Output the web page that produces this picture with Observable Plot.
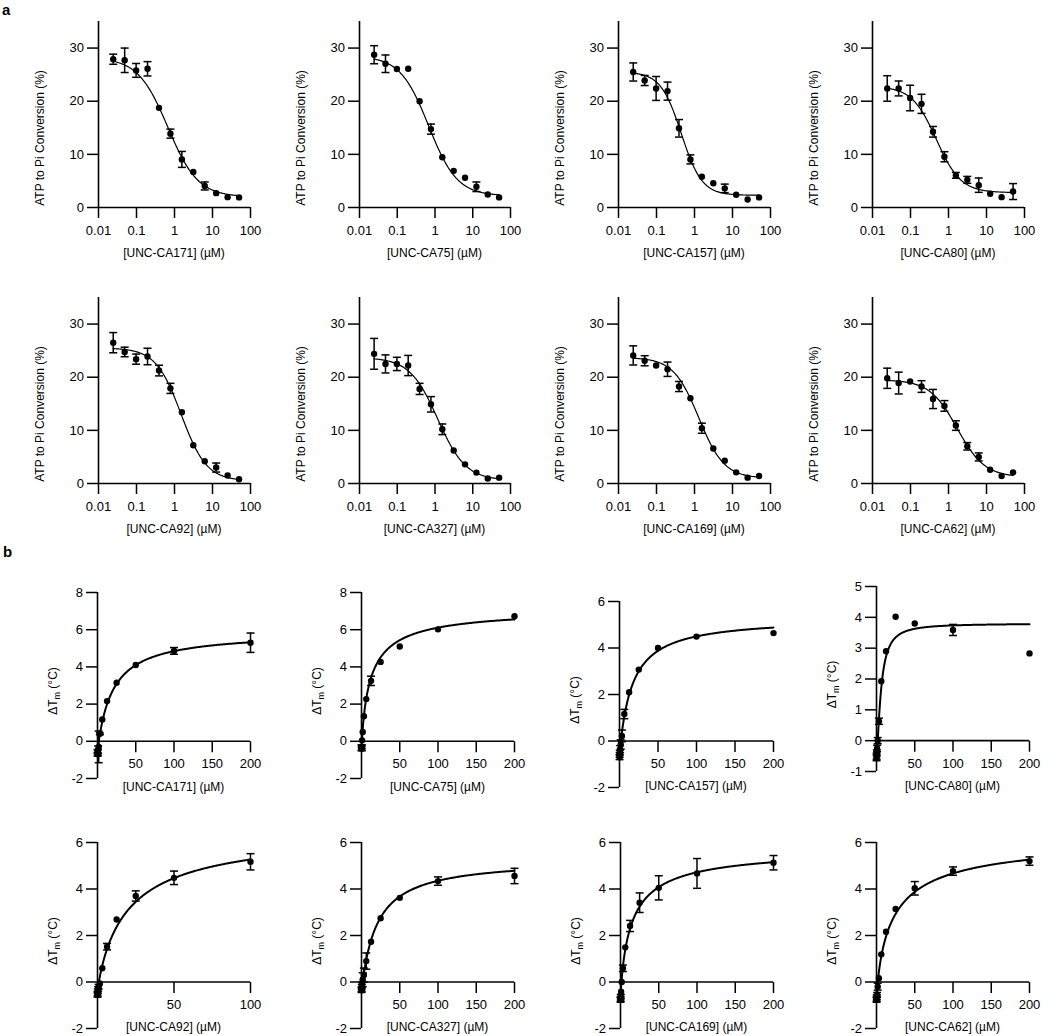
<!DOCTYPE html>
<html><head><meta charset="utf-8">
<script src="https://cdn.jsdelivr.net/npm/d3@7"></script>
<script src="https://cdn.jsdelivr.net/npm/@observablehq/plot@0.6"></script>
<style>
body{margin:0;background:#fff;}
#fig{position:relative;width:1050px;height:1036px;overflow:hidden;font-family:"Liberation Sans",Arial,Helvetica,sans-serif;background:#fff;}
#fig svg{position:absolute;overflow:visible;}
.plab{position:absolute;font-weight:bold;font-size:15px;line-height:18px;color:#000;}
</style></head><body><div id="fig"></div>
<script>
// ---------------- DATA ----------------
// Panel a: ATP to Pi conversion (%) vs concentration (µM), log axis
const concA = [0.0244, 0.0488, 0.0977, 0.195, 0.391, 0.781, 1.5625, 3.125, 6.25, 12.5, 25, 50];
const compoundsA = ["UNC-CA171", "UNC-CA75", "UNC-CA157", "UNC-CA80", "UNC-CA92", "UNC-CA327", "UNC-CA169", "UNC-CA62"];
const xTicksA = [0.01, 0.1, 1, 10, 100];
const yTicksA = [0, 10, 20, 30];

const atpCA171 = [27.9, 27.7, 25.8, 26.1, 18.75, 13.9, 9.05, 6.7, 4.05, 2.7, 1.95, 1.9];
const errCA171 = [0.95, 2.3, 1.3, 1.35, 0, 0.85, 1.5, 0, 0.75, 0, 0, 0];
const atpCA75 = [28.75, 27.05, 26.05, 26.1, 20.0, 14.75, 9.45, 6.9, 5.6, 3.9, 2.45, 1.9];
const errCA75 = [1.7, 1.65, 0, 0, 0, 0.95, 0, 0, 0, 0.9, 0, 0];
const atpCA157 = [25.5, 23.9, 22.4, 21.9, 14.9, 9.05, 5.8, 4.55, 3.6, 2.4, 1.5, 1.9];
const errCA157 = [1.7, 0.95, 2.25, 1.7, 1.65, 0.85, 0, 0, 0.8, 0, 0, 0];
const atpCA80 = [22.4, 22.4, 20.6, 19.5, 14.25, 9.55, 6.05, 5.2, 4.2, 2.6, 1.95, 3.0];
const errCA80 = [2.4, 1.4, 2.4, 1.8, 1.0, 0.95, 0.55, 0.65, 1.35, 0, 0, 1.5];
const atpCA92 = [26.5, 24.75, 23.4, 23.9, 21.25, 17.9, 13.4, 7.2, 4.2, 3.0, 1.5, 0.8];
const errCA92 = [1.9, 0.9, 0.95, 1.55, 1.0, 0.95, 0, 0, 0, 0.85, 0, 0];
const atpCA327 = [24.4, 22.5, 22.5, 22.2, 17.8, 14.9, 10.2, 6.2, 3.6, 2.05, 0.95, 1.1];
const errCA327 = [2.9, 1.7, 1.25, 1.9, 1.05, 1.45, 1.0, 0, 0, 0, 0, 0];
const atpCA169 = [24.1, 23.1, 22.2, 21.5, 18.25, 16.05, 10.4, 6.6, 4.3, 2.1, 1.1, 1.4];
const errCA169 = [1.8, 0.95, 0, 1.35, 0.95, 0, 0.95, 0, 0, 0, 0, 0];
const atpCA62 = [19.8, 18.9, 19.2, 18.25, 15.9, 14.6, 10.9, 7.0, 5.0, 2.6, 1.4, 2.1];
const errCA62 = [1.9, 2.05, 0, 1.1, 1.8, 1.0, 0.9, 0.7, 0.75, 0, 0, 0];

// 4-parameter logistic fit parameters (same order as compoundsA)
const fitTopA = [28.2, 28.5, 25.5, 22.8, 25.5, 23.7, 23.7, 19.5];
const fitBottomA = [2.0, 2.2, 2.3, 2.8, 0.5, 0.6, 1.0, 1.2];
const fitIC50A = [0.67, 0.68, 0.45, 0.48, 1.5, 1.18, 1.3, 1.7];
const fitHillA = [1.1, 1.15, 1.6, 1.35, 1.3, 1.17, 1.3, 1.2];

// Panel b: ΔTm (°C) vs concentration (µM), linear axis
const concB = [0.098, 0.195, 0.39, 0.78, 1.5625, 3.125, 6.25, 12.5, 25, 50, 100, 200];
const concB100 = [0.049, 0.098, 0.195, 0.39, 0.78, 1.5625, 3.125, 6.25, 12.5, 25, 50, 100];
const compoundsB = ["UNC-CA171", "UNC-CA75", "UNC-CA157", "UNC-CA80", "UNC-CA92", "UNC-CA327", "UNC-CA169", "UNC-CA62"];
const xTicksB200 = [50, 100, 150, 200];
const xTicksB100 = [50, 100];
const yTicksB8 = [-2, 0, 2, 4, 6, 8];
const yTicksB6 = [-2, 0, 2, 4, 6];
const yTicksB5 = [-1, 0, 1, 2, 3, 4, 5];

const dtmCA171 = [-0.55, -0.7, -0.6, -0.45, -0.3, 0.4, 1.17, 2.16, 3.15, 4.1, 4.86, 5.3];
const dErrCA171 = [0.1, 0.1, 0.15, 0.2, 0.85, 0.05, 0, 0, 0, 0, 0.18, 0.52];
const dtmCA75 = [-0.35, -0.4, -0.3, 0.05, 0.5, 1.35, 2.27, 3.25, 4.27, 5.1, 6.02, 6.72];
const dErrCA75 = [0.15, 0.1, 0.1, 0, 0, 0, 0, 0.25, 0, 0, 0, 0];
const dtmCA157 = [-0.7, -0.6, -0.5, -0.35, -0.15, 0.22, 1.16, 2.1, 3.07, 4.0, 4.49, 4.64];
const dErrCA157 = [0.1, 0.1, 0.1, 0.15, 0.2, 0.25, 0.2, 0, 0, 0, 0, 0];
const dtmCA80 = [-0.55, -0.5, -0.4, -0.25, 0.0, 0.63, 1.93, 2.9, 4.02, 3.8, 3.59, 2.83];
const dErrCA80 = [0.1, 0.1, 0.1, 0.1, 0.1, 0.1, 0, 0, 0, 0, 0.18, 0];
const dtmCA92 = [-0.55, -0.5, -0.4, -0.3, -0.2, -0.06, 0.59, 1.52, 2.69, 3.7, 4.48, 5.17];
const dErrCA92 = [0.1, 0.1, 0.1, 0.1, 0.1, 0, 0, 0.14, 0, 0.22, 0.29, 0.35];
const dtmCA327 = [-0.35, -0.3, -0.2, -0.1, 0.1, 0.3, 0.9, 1.73, 2.74, 3.62, 4.34, 4.56];
const dErrCA327 = [0.1, 0.1, 0.1, 0.1, 0.3, 0.3, 0.35, 0, 0, 0, 0.18, 0.33];
const dtmCA169 = [-0.77, -0.72, -0.63, -0.42, 0.0, 0.59, 1.49, 2.41, 3.41, 4.05, 4.67, 5.13];
const dErrCA169 = [0.1, 0.1, 0.1, 0, 0, 0.14, 0, 0.24, 0.42, 0.52, 0.64, 0.31];
const dtmCA62 = [-0.77, -0.72, -0.65, -0.55, -0.2, 0.16, 1.19, 2.16, 3.14, 4.03, 4.77, 5.2];
const dErrCA62 = [0.1, 0.1, 0.1, 0.1, 0.15, 0, 0, 0, 0, 0.29, 0.18, 0.18];

// Binding (Hill) fit parameters (same order as compoundsB)
const fitBottomB = [-0.5, -0.5, -0.6, -0.5, -0.4, -0.4, -0.7, -0.8];
const fitSpanB = [6.39, 7.7, 5.92, 4.3, 7.0, 5.7, 6.5, 7.1];
const fitKB = [19.5, 12, 16.1, 6, 20, 19.9, 15, 22];
const fitHillB = [1, 0.85, 1, 1.5, 0.9, 1, 0.85, 0.8];

// ---------------- LAYOUT ----------------
const axisXA = [98, 359, 618, 871.7];
const rightA = [250.3, 510, 770, 1024];
const topA = [20.7, 296.7];
const bottomA = [206.7, 482.3];

const axisXB = [97.3, 360.7, 619.3, 876, 97, 360.7, 620, 876];
const rightB = [250.3, 513.3, 773.3, 1029, 250, 513.3, 773.3, 1029];
const topB = [591.7, 591.7, 600.7, 586, 842.3, 842.3, 842.3, 842.3];
const bottomB = [777.3, 777.3, 786.7, 771, 1028.3, 1028.3, 1028.3, 1028.3];

// ---------------- DRAWING ----------------
const FONT = '"Liberation Sans", Arial, Helvetica, sans-serif';
const fig = document.getElementById("fig");
const ML = 80, MR = 16, MT = 12, MB = 62;

const capSym = {draw(ctx, size) { const r = Math.sqrt(size / Math.PI); ctx.moveTo(-r, 0); ctx.lineTo(r, 0); }};
const tickDownSym = {draw(ctx, size) { const r = Math.sqrt(size / Math.PI); ctx.moveTo(0, 0); ctx.lineTo(0, r); }};

function makePanel(o) {
  const w = Math.round(o.right - o.axis), h = Math.round(o.bottom - o.top);
  const pts = o.x.map((x, i) => ({x, y: o.y[i], e: o.e[i]}));
  const errPts = pts.filter(d => d.e > 0);
  const marks = [
    Plot.line(o.curve, {x: "x", y: "y", stroke: "black", strokeWidth: o.curveW}),
    Plot.ruleY([0], {stroke: "black", strokeWidth: 1.6}),
    Plot.ruleX([o.xDomain[0]], {stroke: "black", strokeWidth: 1.6}),
    Plot.axisY({ticks: o.yTicks, tickSize: 11, tickPadding: 3.5, tickFormat: d => String(d), label: null, strokeWidth: 1.5, fontSize: 13})
  ];
  if (o.log) {
    marks.push(Plot.axisX({ticks: o.xTicks, tickSize: 11, tickPadding: 7, tickFormat: d => String(d), label: null, strokeWidth: 1.5, fontSize: 13}));
  } else {
    marks.push(
      Plot.dot(o.xTicks, {x: d => d, y: () => 0, symbol: tickDownSym, r: 11, stroke: "black", strokeWidth: 1.5, fill: "none"}),
      Plot.text(o.xTicks, {x: d => d, y: () => 0, dy: 23, text: d => String(d), fontSize: 13, fill: "black"})
    );
  }
  marks.push(
    Plot.ruleX(errPts, {x: "x", y1: d => d.y - d.e, y2: d => d.y + d.e, stroke: "black", strokeWidth: 1.5}),
    Plot.dot(errPts, {x: "x", y: d => d.y + d.e, symbol: capSym, r: 4, stroke: "black", strokeWidth: 1.5, fill: "none"}),
    Plot.dot(errPts, {x: "x", y: d => d.y - d.e, symbol: capSym, r: 4, stroke: "black", strokeWidth: 1.5, fill: "none"}),
    Plot.dot(pts, {x: "x", y: "y", r: 3.2, fill: "black"})
  );
  const plot = Plot.plot({
    width: ML + w + MR, height: MT + h + MB,
    marginLeft: ML, marginRight: MR, marginTop: MT, marginBottom: MB,
    x: {type: o.log ? "log" : "linear", domain: o.xDomain, axis: null},
    y: {domain: o.yDomain, axis: null},
    style: {background: "transparent", fontFamily: FONT, fontSize: "13px", color: "black", overflow: "visible"},
    marks
  });
  plot.style.left = (o.axis - ML) + "px";
  plot.style.top = (o.top - MT) + "px";
  const svg = d3.select(plot);
  const zeroY = plot.scale("y").apply(0);
  // x label
  svg.append("text").attr("x", ML + w / 2).attr("y", zeroY + 45.5).attr("dy", "0.35em")
    .attr("text-anchor", "middle").attr("font-size", 12).attr("fill", "black").text(`[${o.name}] (µM)`);
  // y label
  if (o.log) {
    svg.append("text").attr("transform", `translate(${ML - 58.5},${MT + h - 69}) rotate(-90)`)
      .attr("text-anchor", "middle").attr("dy", "0.35em").attr("font-size", 12).attr("fill", "black")
      .text("ATP to Pi Conversion (%)");
  } else {
    const t = svg.append("text").attr("transform", `translate(${ML - 44},${MT + h / 2 + 6}) rotate(-90)`)
      .attr("text-anchor", "middle").attr("font-size", 12).attr("fill", "black");
    t.append("tspan").attr("dy", "0.35em").text("ΔT");
    t.append("tspan").attr("font-size", 9).attr("dy", 3).text("m");
    t.append("tspan").attr("dy", -3).text(" (°C)");
  }
  fig.appendChild(plot);
}

const seriesA = [[atpCA171, errCA171], [atpCA75, errCA75], [atpCA157, errCA157], [atpCA80, errCA80],
                 [atpCA92, errCA92], [atpCA327, errCA327], [atpCA169, errCA169], [atpCA62, errCA62]];
seriesA.forEach(([vals, errs], i) => {
  const col = i % 4, row = Math.floor(i / 4);
  const lo = Math.log10(concA[0]), hi = Math.log10(concA[concA.length - 1]);
  const curve = d3.range(161).map(k => {
    const x = Math.pow(10, lo + (hi - lo) * k / 160);
    return {x, y: fitBottomA[i] + (fitTopA[i] - fitBottomA[i]) / (1 + Math.pow(x / fitIC50A[i], fitHillA[i]))};
  });
  makePanel({
    name: compoundsA[i], log: true, x: concA, y: vals, e: errs, curve, curveW: 1.2,
    xDomain: [0.01, 100], yDomain: [0, 35], xTicks: xTicksA, yTicks: yTicksA,
    axis: axisXA[col], right: rightA[col], top: topA[row], bottom: bottomA[row]
  });
});

const seriesB = [[dtmCA171, dErrCA171, concB], [dtmCA75, dErrCA75, concB], [dtmCA157, dErrCA157, concB], [dtmCA80, dErrCA80, concB],
                 [dtmCA92, dErrCA92, concB100], [dtmCA327, dErrCA327, concB], [dtmCA169, dErrCA169, concB], [dtmCA62, dErrCA62, concB]];
const yDomB = [[-2, 8], [-2, 8], [-2, 6], [-1, 5], [-2, 6], [-2, 6], [-2, 6], [-2, 6]];
const yTicksB = [yTicksB8, yTicksB8, yTicksB6, yTicksB5, yTicksB6, yTicksB6, yTicksB6, yTicksB6];
seriesB.forEach(([vals, errs, conc], i) => {
  const xmax = conc[conc.length - 1];
  const curve = d3.range(301).map(k => {
    const x = conc[0] + (xmax - conc[0]) * Math.pow(k / 300, 2);
    const xh = Math.pow(x, fitHillB[i]);
    return {x, y: fitBottomB[i] + fitSpanB[i] * xh / (Math.pow(fitKB[i], fitHillB[i]) + xh)};
  });
  makePanel({
    name: compoundsB[i], log: false, x: conc, y: vals, e: errs, curve, curveW: 2,
    xDomain: [0, xmax], yDomain: yDomB[i], xTicks: xmax === 100 ? xTicksB100 : xTicksB200, yTicks: yTicksB[i],
    axis: axisXB[i], right: rightB[i], top: topB[i], bottom: bottomB[i]
  });
});

// panel letters
[["a", 2, 1], ["b", 3, 543]].forEach(([t, l, tp]) => {
  const d = document.createElement("div");
  d.className = "plab"; d.textContent = t;
  d.style.left = l + "px"; d.style.top = tp + "px";
  fig.appendChild(d);
});
</script></body></html>
